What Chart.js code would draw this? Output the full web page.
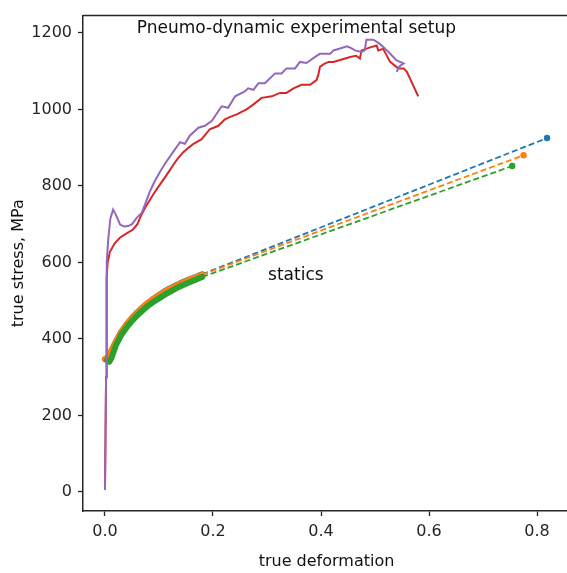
<!DOCTYPE html>
<html>
<head>
<meta charset="utf-8">
<title>true stress vs true deformation</title>
<script src="https://cdn.jsdelivr.net/npm/chart.js@4/dist/chart.umd.min.js"></script>
<style>
  html, body { margin: 0; padding: 0; overflow: hidden; background: #fff; }
  canvas { display: block; }
</style>
</head>
<body>
<canvas id="chart" width="580" height="573"></canvas>
<script>
"use strict";

// ---- statics: measured branch per specimen (strain, MPa) ----
const static1Strain = [0.0, 0.006, 0.012, 0.02, 0.03, 0.04, 0.05, 0.06, 0.07, 0.08, 0.09, 0.10, 0.11, 0.12, 0.13, 0.14, 0.15, 0.16, 0.17, 0.18];
const static1Stress = [347, 352, 369, 392, 418, 438, 455, 470, 483, 495, 505, 515, 524, 532, 539, 546, 552, 558, 563, 569];
const static2Strain = [0.0, 0.006, 0.012, 0.02, 0.03, 0.04, 0.05, 0.06, 0.07, 0.08, 0.09, 0.10, 0.11, 0.12, 0.13, 0.14, 0.15, 0.16, 0.17, 0.18];
const static2Stress = [347, 352, 370, 392, 418, 438, 455, 470, 483, 495, 505, 514, 523, 531, 538, 545, 551, 557, 562, 568];
const static3Strain = [0.004, 0.008, 0.012, 0.02, 0.03, 0.04, 0.05, 0.06, 0.07, 0.08, 0.09, 0.10, 0.11, 0.12, 0.13, 0.14, 0.15, 0.16, 0.17, 0.18];
const static3Stress = [344, 340, 350, 383, 410, 430, 447, 462, 475, 487, 497, 506, 515, 523, 531, 538, 544, 550, 556, 562];

// extrapolated end points of the static curves
const static1End = [0.8185, 925];
const static2End = [0.775, 880];
const static3End = [0.754, 852];

// ---- pneumo-dynamic runs ----
const dyn1Strain = [0, 0.002, 0.003, 0.005, 0.009, 0.018, 0.028, 0.04, 0.052, 0.06, 0.065, 0.074, 0.089, 0.1, 0.114,
  0.126, 0.135, 0.145, 0.155, 0.164, 0.179, 0.194, 0.21, 0.222, 0.233, 0.244, 0.262, 0.275, 0.29, 0.309, 0.324, 0.336,
  0.349, 0.364, 0.38, 0.392, 0.395, 0.398, 0.405, 0.414, 0.423, 0.44, 0.454, 0.465, 0.472, 0.475, 0.491, 0.503, 0.506,
  0.515, 0.528, 0.543, 0.553, 0.559, 0.58];
const dyn1Stress = [5, 300, 560, 600, 627, 650, 665, 676, 686, 700, 717, 742, 777, 800, 828,
  854, 872, 888, 900, 910, 922, 948, 957, 974, 981, 987, 1000, 1013, 1030, 1034, 1043, 1043,
  1055, 1064, 1064, 1077, 1090, 1111, 1118, 1124, 1124, 1131, 1137, 1140, 1133, 1154, 1162, 1167, 1154,
  1158, 1124, 1107, 1107, 1098, 1034];

const dyn2Strain = [0, 0.002, 0.003, 0.0035, 0.006, 0.01, 0.015, 0.02, 0.028, 0.035, 0.043, 0.05, 0.059, 0.068, 0.075,
  0.083, 0.092, 0.102, 0.111, 0.126, 0.139, 0.148, 0.157, 0.173, 0.185, 0.198, 0.216, 0.228, 0.241, 0.259, 0.265, 0.275,
  0.284, 0.296, 0.315, 0.327, 0.336, 0.352, 0.361, 0.373, 0.389, 0.398, 0.417, 0.423, 0.435, 0.448, 0.456, 0.463, 0.475,
  0.481, 0.484, 0.497, 0.509, 0.525, 0.54, 0.553, 0.545, 0.54];
const dyn2Stress = [5, 300, 560, 600, 660, 715, 738, 725, 699, 694, 695, 700, 717, 729, 755,
  785, 812, 837, 858, 888, 914, 910, 931, 952, 957, 970, 1008, 1004, 1034, 1047, 1055, 1051,
  1068, 1068, 1094, 1094, 1107, 1107, 1124, 1121, 1137, 1145, 1145, 1154, 1159, 1165, 1160, 1154, 1150,
  1154, 1182, 1182, 1171, 1150, 1128, 1120, 1112, 1098];

const xTicks = [0, 0.2, 0.4, 0.6, 0.8];
const yTicks = [0, 200, 400, 600, 800, 1000, 1200];

const notes = [
  { text: "Pneumo-dynamic experimental setup", x: 0.059, y: 1199 },
  { text: "statics", x: 0.302, y: 553 },
];

const C = { blue: "#1f77b4", orange: "#ff7f0e", green: "#2ca02c", red: "#d62728", purple: "#9467bd", ink: "#262626" };

const pts = (xs, ys) => xs.map((x, i) => ({ x, y: ys[i] }));
const tail = (xs, ys, end) => [{ x: xs[xs.length - 1], y: ys[ys.length - 1] }, { x: end[0], y: end[1] }];

function staticBand(xs, ys, color, order) {
  return { data: pts(xs, ys), borderColor: color, backgroundColor: color, borderWidth: 6,
    borderCapStyle: "round", borderJoinStyle: "round", pointRadius: 0, showLine: true, order };
}
function staticTail(xs, ys, end, color, order) {
  return { data: tail(xs, ys, end), borderColor: color, backgroundColor: color, borderWidth: 1.8,
    borderDash: [6, 3], showLine: true, order,
    pointRadius: (c) => (c.dataIndex === 1 ? 3.2 : 0), pointBorderWidth: 0 };
}

// frame (top/right spines) + free text labels
const frame = {
  id: "frame",
  afterDatasetsDraw(chart) {
    const { ctx, chartArea: a, scales: { x, y } } = chart;
    ctx.save();
    ctx.strokeStyle = C.ink;
    ctx.lineWidth = 1.5;
    ctx.beginPath();
    ctx.moveTo(a.left, a.top);
    ctx.lineTo(a.right, a.top);
    ctx.lineTo(a.right, a.bottom);
    ctx.stroke();
    ctx.fillStyle = "#111";
    ctx.font = "17px 'DejaVu Sans', sans-serif";
    ctx.textBaseline = "alphabetic";
    ctx.textAlign = "left";
    notes.forEach((n) => ctx.fillText(n.text, x.getPixelForValue(n.x), y.getPixelForValue(n.y)));
    ctx.restore();
  },
};

Chart.defaults.font.family = "'DejaVu Sans', sans-serif";
Chart.defaults.font.size = 16;
Chart.defaults.color = C.ink;

new Chart(document.getElementById("chart"), {
  type: "scatter",
  data: {
    datasets: [
      staticBand(static1Strain, static1Stress, C.blue, 8),
      staticTail(static1Strain, static1Stress, static1End, C.blue, 7),
      staticBand(static2Strain, static2Stress, C.orange, 6),
      staticTail(static2Strain, static2Stress, static2End, C.orange, 5),
      staticBand(static3Strain, static3Stress, C.green, 4),
      staticTail(static3Strain, static3Stress, static3End, C.green, 3),
      { data: pts(dyn1Strain, dyn1Stress), borderColor: C.red, borderWidth: 2, pointRadius: 0, showLine: true, order: 2 },
      { data: pts(dyn2Strain, dyn2Stress), borderColor: C.purple, borderWidth: 2, pointRadius: 0, showLine: true, order: 1 },
    ],
  },
  options: {
    responsive: false,
    animation: false,
    events: [],
    layout: { padding: { top: 8, right: 10, left: 0, bottom: 0 } },
    plugins: { legend: { display: false }, tooltip: { enabled: false } },
    scales: {
      x: {
        type: "linear", min: -0.0407, max: 0.861,
        afterBuildTicks: (s) => { s.ticks = xTicks.map((v) => ({ value: v })); },
        afterFit: (s) => { s.height = 62; },
        ticks: { padding: 6, color: C.ink, callback: (v) => v.toFixed(1) },
        grid: { drawOnChartArea: false, drawTicks: true, tickLength: 5, tickColor: C.ink, tickWidth: 1.3 },
        border: { display: true, color: C.ink, width: 1.5 },
        title: { display: true, text: "true deformation", color: "#111", padding: { top: 0, bottom: 2 } },
      },
      y: {
        type: "linear", min: -49.7, max: 1245,
        afterBuildTicks: (s) => { s.ticks = yTicks.map((v) => ({ value: v })); },
        afterFit: (s) => { s.width = 83; },
        ticks: { padding: 6, color: C.ink, callback: (v) => String(v) },
        grid: { drawOnChartArea: false, drawTicks: true, tickLength: 5, tickColor: C.ink, tickWidth: 1.3 },
        border: { display: true, color: C.ink, width: 1.5 },
        title: { display: true, text: "true stress, MPa", color: "#111", padding: { top: 9, bottom: 0 } },
      },
    },
  },
  plugins: [frame],
});
</script>
</body>
</html>
